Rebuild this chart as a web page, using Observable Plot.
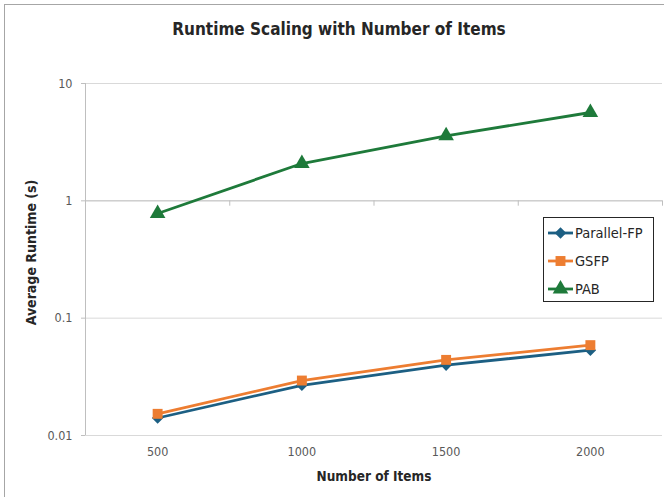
<!DOCTYPE html>
<html>
<head>
<meta charset="utf-8">
<script src="https://cdn.jsdelivr.net/npm/d3@7"></script>
<script src="https://cdn.jsdelivr.net/npm/@observablehq/plot@0.6"></script>
<style>
  html, body { margin: 0; padding: 0; background: #ffffff; }
  #chart { width: 664px; height: 497px; overflow: hidden; }
  [aria-label="y-axis tick"] { color: #bfbfbf; }
</style>
</head>
<body>
<div id="chart"></div>
<script>
// ---- data ----
const categories = [500, 1000, 1500, 2000];
const parallelFP = [0.0141, 0.0268, 0.0398, 0.0533];
const gsfp = [0.0153, 0.0294, 0.0441, 0.0589];
const pab = [0.78, 2.08, 3.58, 5.66];
const seriesNames = ["Parallel-FP", "GSFP", "PAB"];
const yTicks = [0.01, 0.1, 1, 10];
const categoryBounds = [250, 750, 1250, 1750, 2250];
const titleText = "Runtime Scaling with Number of Items";
const xLabel = "Number of Items";
const yLabel = "Average Runtime (s)";

const colors = {"Parallel-FP": "#1c5f83", "GSFP": "#ed7d31", "PAB": "#1e7a3a"};
const symbols = {"Parallel-FP": "diamond2", "GSFP": "square", "PAB": "triangle"};
const radii = {"Parallel-FP": 5.2, "GSFP": 5.6, "PAB": 5.8};
const seriesValues = [parallelFP, gsfp, pab];

const rows = [];
seriesNames.forEach((name, si) => {
  categories.forEach((c, i) => rows.push({series: name, items: c, runtime: seriesValues[si][i]}));
});

const font = "'Liberation Sans Narrow', 'DejaVu Sans Condensed', Roboto, sans-serif";

const seriesMarks = [];
seriesNames.forEach(name => {
  const d = rows.filter(r => r.series === name);
  seriesMarks.push(Plot.line(d, {x: "items", y: "runtime", stroke: colors[name], strokeWidth: 2.8}));
  seriesMarks.push(Plot.dot(d, {x: "items", y: "runtime", symbol: () => symbols[name], fill: colors[name], stroke: "none", r: radii[name]}));
});

const plot = Plot.plot({
  width: 664,
  height: 497,
  marginLeft: 85,
  marginRight: 2,
  marginTop: 83,
  marginBottom: 62,
  style: {fontFamily: font, fontSize: "12.5px", color: "#595959", background: "transparent", overflow: "visible"},
  x: {type: "linear", domain: [categoryBounds[0], categoryBounds[categoryBounds.length - 1]], ticks: categories, tickFormat: d => String(d), tickSize: 0, tickPadding: 12, label: null},
  y: {type: "log", domain: [0.01, 10], ticks: yTicks, tickFormat: d => String(d), tickSize: 4, tickPadding: 9, label: null},
  marks: [
    Plot.ruleY(yTicks, {stroke: "#d9d9d9", strokeWidth: 1}),
    Plot.ruleY([1], {stroke: "#c4c4c4", strokeWidth: 1}),
    Plot.ruleX([categoryBounds[0]], {stroke: "#bfbfbf", strokeWidth: 1}),
    Plot.ruleX(categoryBounds.slice(1), {y1: 1, y2: 0.9, stroke: "#bfbfbf", strokeWidth: 1}),
    ...seriesMarks,
    Plot.text([titleText], {frameAnchor: "top", dx: -35, dy: -61, fontSize: 17, fontWeight: "bold", fill: "#262626"}),
    Plot.text([yLabel], {frameAnchor: "left", textAnchor: "middle", dx: -54, dy: -7, rotate: -90, fontSize: 14, fontWeight: "bold", fill: "#262626"}),
    Plot.text([xLabel], {frameAnchor: "bottom", dy: 45, fontSize: 13.5, fontWeight: "bold", fill: "#262626"})
  ]
});

document.getElementById("chart").appendChild(plot);

// chart border (top and left visible)
const svg = d3.select(plot);
svg.insert("rect", ":first-child")
  .attr("x", 4.5).attr("y", 4.5).attr("width", 700).attr("height", 600)
  .attr("fill", "white").attr("stroke", "#a6a6a6").attr("stroke-width", 1);

// legend
const lg = svg.append("g").attr("font-family", font).attr("font-size", 14.5).attr("text-anchor", "start");
lg.append("rect").attr("x", 543.5).attr("y", 217.5).attr("width", 110).attr("height", 84)
  .attr("fill", "white").attr("stroke", "#262626").attr("stroke-width", 1);
seriesNames.forEach((name, i) => {
  const cy = 233 + i * 28;
  lg.append("line").attr("x1", 548).attr("x2", 573).attr("y1", cy).attr("y2", cy)
    .attr("stroke", colors[name]).attr("stroke-width", 2.8);
  const sym = name === "Parallel-FP" ? d3.symbolDiamond2 : name === "GSFP" ? d3.symbolSquare : d3.symbolTriangle;
  lg.append("path").attr("d", d3.symbol(sym, Math.PI * radii[name] * radii[name])())
    .attr("transform", `translate(560.5,${cy})`).attr("fill", colors[name]);
  lg.append("text").attr("x", 575).attr("y", cy).attr("dy", "0.35em").attr("text-anchor", "start")
    .attr("fill", "#262626").text(name);
});
</script>
</body>
</html>
